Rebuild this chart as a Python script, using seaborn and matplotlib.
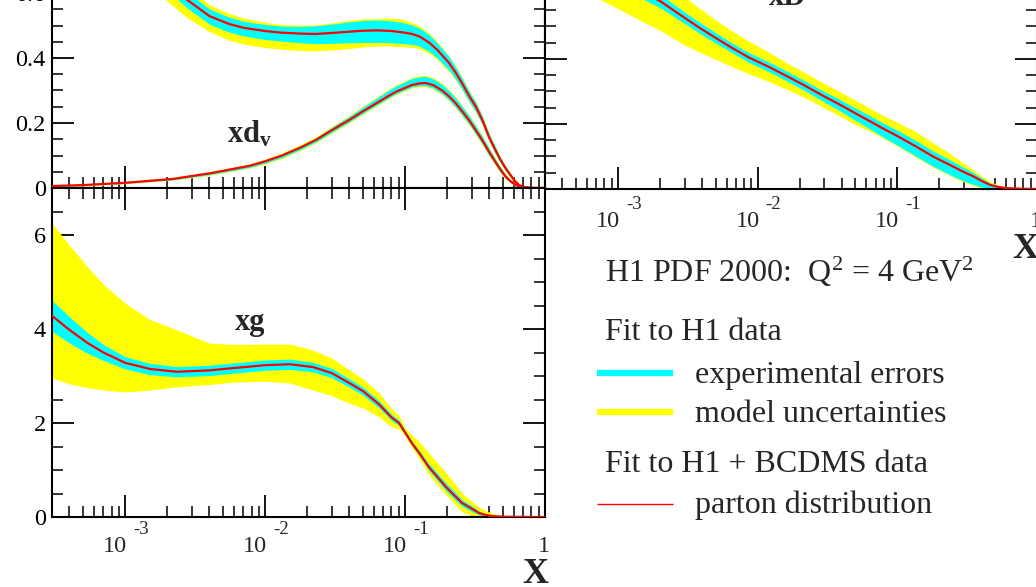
import numpy as np
import pandas as pd
import matplotlib
matplotlib.use("Agg")
import matplotlib.pyplot as plt
from matplotlib.lines import Line2D
from matplotlib.ticker import LogLocator, NullFormatter, MultipleLocator, FixedLocator
from matplotlib.transforms import offset_copy
import seaborn as sns

# ---------------- data ----------------
# xu_v (upper curve, top-left panel)
x_uv = [3e-4, 5e-4, 1e-3, 1.5e-3, 2e-3, 2.75e-3, 4e-3, 5.5e-3, 7e-3, 1e-2, 1.3e-2, 1.8e-2, 2.3e-2,
        3e-2, 4e-2, 5e-2, 6.4e-2, 8e-2, 9.6e-2, 0.112, 0.127, 0.148, 0.17, 0.206, 0.23, 0.255,
        0.29, 0.321, 0.36, 0.398, 0.435, 0.469, 0.51, 0.553, 0.6, 0.652, 0.72, 0.85, 1.0]
uv = [1.05, 0.93, 0.78, 0.69, 0.635, 0.58, 0.529, 0.505, 0.493, 0.483, 0.478, 0.475, 0.474,
      0.477, 0.481, 0.484, 0.485, 0.483, 0.479, 0.474, 0.466, 0.448, 0.425, 0.385, 0.355, 0.323,
      0.28, 0.25, 0.205, 0.157, 0.123, 0.095, 0.068, 0.046, 0.025, 0.009, 0.002, 0.0, 0.0]
uv_exp_up = [0.04, 0.035, 0.03, 0.028, 0.026, 0.024, 0.022, 0.021, 0.02, 0.02, 0.02, 0.022, 0.025,
             0.027, 0.03, 0.031, 0.032, 0.031, 0.03, 0.028, 0.026, 0.024, 0.021, 0.019, 0.017, 0.016,
             0.014, 0.013, 0.012, 0.011, 0.01, 0.009, 0.007, 0.006, 0.004, 0.002, 0.001, 0.0, 0.0]
uv_exp_dn = [0.04, 0.035, 0.03, 0.028, 0.026, 0.025, 0.025, 0.025, 0.025, 0.026, 0.026, 0.028, 0.03,
             0.032, 0.034, 0.036, 0.037, 0.036, 0.035, 0.032, 0.03, 0.027, 0.025, 0.022, 0.02, 0.019,
             0.017, 0.016, 0.014, 0.013, 0.012, 0.01, 0.008, 0.007, 0.005, 0.003, 0.001, 0.0, 0.0]
uv_mod_up = [0.09, 0.08, 0.06, 0.05, 0.045, 0.04, 0.035, 0.032, 0.03, 0.027, 0.025, 0.026, 0.028,
             0.031, 0.035, 0.036, 0.037, 0.04, 0.04, 0.036, 0.033, 0.029, 0.025, 0.022, 0.02, 0.019,
             0.017, 0.016, 0.014, 0.013, 0.012, 0.01, 0.008, 0.007, 0.005, 0.003, 0.001, 0.0, 0.0]
uv_mod_dn = [0.12, 0.1, 0.08, 0.07, 0.06, 0.055, 0.048, 0.05, 0.05, 0.051, 0.051, 0.052, 0.052,
             0.052, 0.052, 0.05, 0.048, 0.046, 0.044, 0.041, 0.038, 0.034, 0.03, 0.027, 0.024, 0.022,
             0.02, 0.019, 0.016, 0.014, 0.013, 0.011, 0.009, 0.008, 0.006, 0.003, 0.001, 0.0, 0.0]

# xd_v (lower curve, top-left panel)
x_dv = [3e-4, 5e-4, 1e-3, 2.2e-3, 4e-3, 7.7e-3, 1e-2, 1.32e-2, 1.8e-2, 2.31e-2, 3e-2, 3.98e-2, 5e-2,
        6.2e-2, 7.4e-2, 8.6e-2, 0.1, 0.112, 0.127, 0.141, 0.16, 0.184, 0.206, 0.231, 0.257, 0.286,
        0.32, 0.355, 0.4, 0.447, 0.485, 0.526, 0.57, 0.62, 0.7, 0.8, 1.0]
dv = [0.006, 0.009, 0.016, 0.028, 0.045, 0.068, 0.082, 0.10, 0.125, 0.148, 0.178, 0.209, 0.236,
      0.26, 0.28, 0.296, 0.308, 0.317, 0.322, 0.323, 0.316, 0.30, 0.282, 0.26, 0.235, 0.209,
      0.178, 0.148, 0.11, 0.077, 0.054, 0.034, 0.02, 0.009, 0.002, 0.0, 0.0]
dv_exp_up = [0.002, 0.002, 0.002, 0.003, 0.003, 0.004, 0.004, 0.005, 0.006, 0.007, 0.009, 0.011, 0.013,
             0.015, 0.017, 0.018, 0.019, 0.02, 0.02, 0.02, 0.019, 0.018, 0.017, 0.016, 0.015, 0.014,
             0.013, 0.012, 0.011, 0.009, 0.008, 0.006, 0.004, 0.002, 0.001, 0.0, 0.0]
dv_exp_dn = [0.002, 0.002, 0.002, 0.003, 0.004, 0.005, 0.005, 0.006, 0.006, 0.006, 0.006, 0.006, 0.006,
             0.006, 0.006, 0.006, 0.006, 0.006, 0.007, 0.008, 0.009, 0.01, 0.011, 0.012, 0.012, 0.012,
             0.012, 0.012, 0.011, 0.009, 0.008, 0.006, 0.004, 0.002, 0.001, 0.0, 0.0]
dv_mod_up = [0.003, 0.003, 0.003, 0.004, 0.005, 0.006, 0.007, 0.008, 0.009, 0.010, 0.012, 0.014, 0.016,
             0.018, 0.020, 0.021, 0.022, 0.023, 0.024, 0.024, 0.023, 0.022, 0.021, 0.020, 0.018, 0.017,
             0.016, 0.015, 0.013, 0.011, 0.010, 0.008, 0.005, 0.003, 0.001, 0.0, 0.0]
dv_mod_dn = [0.003, 0.003, 0.003, 0.004, 0.006, 0.007, 0.008, 0.009, 0.009, 0.009, 0.009, 0.009, 0.009,
             0.009, 0.009, 0.009, 0.009, 0.009, 0.010, 0.011, 0.012, 0.013, 0.014, 0.015, 0.015, 0.015,
             0.015, 0.015, 0.013, 0.011, 0.010, 0.008, 0.005, 0.003, 0.001, 0.0, 0.0]

# xD (top-right panel)
x_D = [3e-4, 5e-4, 1e-3, 1.5e-3, 2.02e-3, 2.9e-3, 3.8e-3, 5e-3, 6.5e-3, 8.7e-3, 1.2e-2, 1.69e-2,
       2.2e-2, 2.93e-2, 3.9e-2, 5.1e-2, 6.4e-2, 7.9e-2, 0.1, 0.137, 0.18, 0.238, 0.29, 0.35, 0.4,
       0.46, 0.53, 0.6, 0.8, 1.0]
D = [0.80, 0.73, 0.65, 0.607, 0.577, 0.531, 0.497, 0.465, 0.435, 0.404, 0.376, 0.343,
     0.317, 0.287, 0.259, 0.231, 0.208, 0.186, 0.163, 0.130, 0.100, 0.074, 0.055, 0.039, 0.025,
     0.013, 0.006, 0.003, 0.0005, 0.0]
D_exp_up = [0.03, 0.028, 0.025, 0.022, 0.02, 0.018, 0.017, 0.016, 0.015, 0.015, 0.015, 0.015,
            0.015, 0.015, 0.016, 0.016, 0.017, 0.017, 0.018, 0.018, 0.017, 0.016, 0.014, 0.012, 0.009,
            0.006, 0.004, 0.002, 0.0, 0.0]
D_exp_dn = [0.03, 0.028, 0.025, 0.022, 0.02, 0.018, 0.017, 0.016, 0.015, 0.015, 0.015, 0.015,
            0.016, 0.017, 0.019, 0.022, 0.024, 0.026, 0.028, 0.03, 0.03, 0.03, 0.028, 0.025, 0.019,
            0.012, 0.006, 0.003, 0.0, 0.0]
D_mod_up = [0.12, 0.1, 0.09, 0.08, 0.07, 0.065, 0.06, 0.055, 0.052, 0.05, 0.045, 0.04,
            0.04, 0.04, 0.04, 0.04, 0.04, 0.04, 0.042, 0.045, 0.042, 0.035, 0.028, 0.02, 0.015,
            0.01, 0.006, 0.003, 0.0, 0.0]
D_mod_dn = [0.12, 0.11, 0.095, 0.092, 0.09, 0.085, 0.075, 0.066, 0.058, 0.05, 0.045, 0.04,
            0.037, 0.035, 0.035, 0.035, 0.031, 0.03, 0.031, 0.033, 0.033, 0.033, 0.031, 0.028, 0.022,
            0.014, 0.007, 0.003, 0.0, 0.0]

# xg (bottom-left panel)
x_g = [3e-4, 4e-4, 5.4e-4, 7e-4, 1e-3, 1.5e-3, 2.35e-3, 4e-3, 6e-3, 1e-2, 1.5e-2, 2.2e-2,
       3e-2, 4e-2, 5e-2, 6.5e-2, 8e-2, 0.0906, 0.1, 0.112, 0.127, 0.148, 0.165, 0.196, 0.225,
       0.255, 0.295, 0.338, 0.38, 0.418, 0.5, 0.6, 0.8, 1.0]
g = [4.28, 3.98, 3.70, 3.50, 3.28, 3.15, 3.09, 3.12, 3.17, 3.23, 3.25, 3.19,
     3.06, 2.85, 2.68, 2.40, 2.12, 2.0, 1.80, 1.57, 1.35, 1.06, 0.90, 0.64, 0.46,
     0.30, 0.19, 0.085, 0.04, 0.02, 0.006, 0.002, 0.0, 0.0]
g_exp = [0.33, 0.28, 0.22, 0.17, 0.13, 0.12, 0.11, 0.11, 0.11, 0.11, 0.11, 0.1,
         0.1, 0.09, 0.085, 0.075, 0.065, 0.06, 0.05, 0.05, 0.06, 0.07, 0.08, 0.08, 0.08,
         0.07, 0.06, 0.04, 0.025, 0.015, 0.005, 0.002, 0.0, 0.0]
g_mod_up = [1.97, 1.8, 1.62, 1.45, 1.27, 1.05, 0.89, 0.58, 0.5, 0.45, 0.43, 0.36,
            0.32, 0.28, 0.26, 0.24, 0.19, 0.16, 0.1, 0.17, 0.25, 0.3, 0.3, 0.3, 0.26,
            0.21, 0.16, 0.125, 0.09, 0.06, 0.02, 0.006, 0.0, 0.0]
g_mod_dn = [1.32, 1.15, 0.95, 0.8, 0.62, 0.45, 0.32, 0.3, 0.3, 0.34, 0.4, 0.49,
            0.48, 0.43, 0.36, 0.27, 0.2, 0.13, 0.07, 0.1, 0.12, 0.16, 0.17, 0.17, 0.18,
            0.19, 0.15, 0.085, 0.04, 0.02, 0.006, 0.002, 0.0, 0.0]

x_major = [1e-3, 1e-2, 1e-1, 1.0]
x_major_base = ["10", "10", "10", "1"]
x_major_exp = ["-3", "-2", "-1", ""]

# ---------------- style ----------------
sns.set_style("ticks")
plt.rcParams["font.family"] = ["Liberation Serif", "DejaVu Serif"]
plt.rcParams["mathtext.fontset"] = "custom"
plt.rcParams["mathtext.rm"] = "Liberation Serif"
plt.rcParams["mathtext.it"] = "Liberation Serif:italic"
plt.rcParams["mathtext.bf"] = "Liberation Serif:bold"

CYAN = "#00FFFF"
YELLOW = "#FFFF00"
RED = "#FF0000"

W, H = 1036, 587
fig = plt.figure(figsize=(W / 100, H / 100), dpi=100)


def axes_px(left, top, right, bottom):
    return fig.add_axes([left / W, 1 - bottom / H, (right - left) / W, (bottom - top) / H])


ax_tl = axes_px(52, 188 - 325, 545, 188)
ax_tr = axes_px(545, 189 - 325, 1037, 189)
ax_bl = axes_px(52, 188, 545, 517)


def band(ax, x, c, up, dn, color):
    c = np.asarray(c); up = np.asarray(up); dn = np.asarray(dn)
    ax.fill_between(x, c - dn, c + up, color=color, lw=0, zorder=2)


def curve(ax, x, c, eu, ed, mu, md):
    band(ax, x, c, mu, md, YELLOW)
    band(ax, x, c, eu, ed, CYAN)
    sns.lineplot(x=x, y=c, ax=ax, color=RED, lw=1.6, zorder=4, legend=False)


for ax in (ax_tl, ax_tr, ax_bl):
    ax.set_xscale("log")

curve(ax_tl, x_uv, uv, uv_exp_up, uv_exp_dn, uv_mod_up, uv_mod_dn)
curve(ax_tl, x_dv, dv, dv_exp_up, dv_exp_dn, dv_mod_up, dv_mod_dn)
curve(ax_tr, x_D, D, D_exp_up, D_exp_dn, D_mod_up, D_mod_dn)
curve(ax_bl, x_g, g, g_exp, g_exp, g_mod_up, g_mod_dn)

for ax in (ax_tl, ax_tr, ax_bl):
    ax.set_xlim(3e-4, 1.0)
    ax.set_xlabel("")
    ax.set_ylabel("")
    ax.xaxis.set_major_locator(FixedLocator(x_major))
    ax.xaxis.set_minor_locator(LogLocator(base=10, subs=np.arange(2, 10)))
    ax.xaxis.set_minor_formatter(NullFormatter())
    for s in ax.spines.values():
        s.set_linewidth(1.5)
        s.set_color("black")
    ax.tick_params(which="both", direction="in", top=True, right=True,
                   bottom=True, left=True, colors="black", labelsize=17.5)
    ax.tick_params(which="major", length=16, width=1.3, pad=4.5)
    ax.tick_params(which="minor", length=8, width=1.1)
    ax.tick_params(axis="x", labelbottom=False)
    ax.set_facecolor("white")

for ax in (ax_tl, ax_tr):
    ax.set_ylim(0, 1.0)
    ax.yaxis.set_major_locator(MultipleLocator(0.2))
    ax.yaxis.set_minor_locator(MultipleLocator(0.05))

ax_bl.set_ylim(0, 7)
ax_bl.yaxis.set_major_locator(MultipleLocator(2))
ax_bl.yaxis.set_minor_locator(MultipleLocator(0.5))

ax_tl.set_yticks([0, 0.2, 0.4, 0.6, 0.8, 1.0], ["0", "0.2", "0.4", "0.6", "0.8", "1"])
ax_bl.set_yticks([0, 2, 4, 6], ["0", "2", "4", "6"])
ax_tr.tick_params(axis="y", labelleft=False)


def x_labels(ax, base_drop, exp_drop):
    trans = ax.get_xaxis_transform()
    for xv, base, ex in zip(x_major, x_major_base, x_major_exp):
        if ex:
            ax.text(xv, 0, base, fontsize=17.5, ha="right", va="baseline", clip_on=False,
                    transform=offset_copy(trans, fig=fig, x=2, y=-base_drop, units="dots"))
            ax.text(xv, 0, ex, fontsize=13.5, ha="left", va="baseline", clip_on=False,
                    transform=offset_copy(trans, fig=fig, x=8, y=-exp_drop, units="dots"))
        else:
            ax.text(xv, 0, base, fontsize=17.5, ha="center", va="baseline", clip_on=False,
                    transform=offset_copy(trans, fig=fig, x=-1, y=-base_drop, units="dots"))


x_labels(ax_bl, 35, 17)
x_labels(ax_tr, 38, 20)

# curve labels
ax_tl.text(5.3e-3, 0.14, r"$\mathbf{xd}_{\mathbf{v}}$", fontsize=22, ha="left", va="baseline", zorder=6)
ax_tr.text(1.2e-2, 0.565, "xD", fontsize=22, fontweight="bold", ha="left", va="baseline", zorder=6)
ax_bl.text(6.1e-3, 3.98, "xg", fontsize=22, fontweight="bold", ha="left", va="baseline", zorder=6)

# axis titles "X"
fig.text(535 / W, 1 - 583 / H, "X", fontsize=26, fontweight="bold", ha="center", va="baseline")
fig.text(1025 / W, 1 - 258 / H, "X", fontsize=26, fontweight="bold", ha="center", va="baseline")

# legend block
fs = 23
fig.text(605 / W, 1 - 282 / H, r"H1 PDF 2000:  Q$^{2}$ = 4 GeV$^{2}$", fontsize=fs, ha="left", va="baseline")
fig.text(605 / W, 1 - 340 / H, "Fit to H1 data", fontsize=fs, ha="left", va="baseline")
fig.text(695 / W, 1 - 383 / H, "experimental errors", fontsize=fs, ha="left", va="baseline")
fig.text(695 / W, 1 - 422 / H, "model uncertainties", fontsize=fs, ha="left", va="baseline")
fig.text(605 / W, 1 - 472 / H, "Fit to H1 + BCDMS data", fontsize=fs, ha="left", va="baseline")
fig.text(695 / W, 1 - 513 / H, "parton distribution", fontsize=fs, ha="left", va="baseline")
fig.add_artist(Line2D([597 / W, 673 / W], [1 - 373 / H] * 2, color=CYAN, lw=4.5, solid_capstyle="butt"))
fig.add_artist(Line2D([597 / W, 673 / W], [1 - 412 / H] * 2, color=YELLOW, lw=4.5, solid_capstyle="butt"))
fig.add_artist(Line2D([597 / W, 673 / W], [1 - 504 / H] * 2, color=RED, lw=1.0, solid_capstyle="butt"))

fig.savefig("out.png", dpi=100, facecolor="white")
